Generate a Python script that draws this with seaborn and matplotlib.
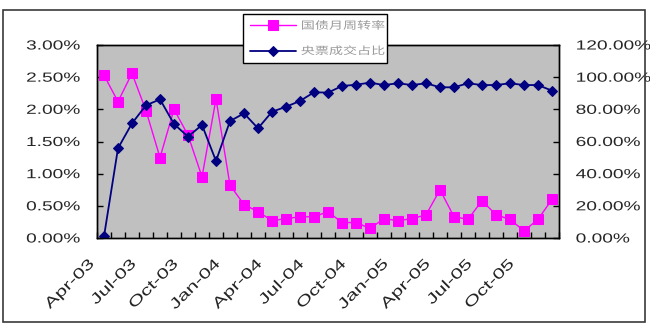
import numpy as np
import pandas as pd
import seaborn as sns
import matplotlib
matplotlib.use("Agg")
import matplotlib.pyplot as plt
from matplotlib.ticker import PercentFormatter, FixedLocator, NullFormatter
from matplotlib.patheffects import AbstractPathEffect
from matplotlib.transforms import Affine2D, ScaledTranslation
from matplotlib.patches import Rectangle

# Monthly categories, Apr-2003 .. Dec-2005
months = pd.period_range("2003-04", "2005-12", freq="M").strftime("%b-%y").tolist()

# 国债月周转率 (%), left axis
turnover = [2.53, 2.12, 2.56, 1.98, 1.25, 2.00, 1.60, 0.95, 2.16, 0.82, 0.52,
            0.41, 0.27, 0.30, 0.33, 0.33, 0.41, 0.24, 0.24, 0.15, 0.30, 0.27,
            0.30, 0.36, 0.75, 0.33, 0.29, 0.58, 0.36, 0.29, 0.11, 0.29, 0.60]

# 央票成交占比 (%), right axis
share = [1.0, 55.8, 71.3, 82.5, 86.2, 70.9, 63.0, 70.3, 47.9, 72.7, 77.5,
         68.2, 78.5, 81.6, 85.2, 90.6, 90.4, 94.5, 95.3, 96.6, 95.1, 96.2,
         95.1, 96.2, 93.7, 93.7, 96.2, 95.1, 95.1, 96.2, 95.1, 95.1, 91.6]

tick_labels = ["Apr-03", "Jul-03", "Oct-03", "Jan-04", "Apr-04", "Jul-04",
               "Oct-04", "Jan-05", "Apr-05", "Jul-05", "Oct-05"]
label_names = ["国债月周转率", "央票成交占比"]

left_ticks = [0.0, 0.5, 1.0, 1.5, 2.0, 2.5, 3.0]
right_ticks = [0, 20, 40, 60, 80, 100, 120]

df = pd.DataFrame({"idx": np.arange(len(months)), "month": months,
                   "turnover": turnover, "share": share})


class Widen(AbstractPathEffect):
    """Stretch text glyphs horizontally around a chosen anchor."""

    def __init__(self, sx=1.35, anchor="left"):
        super().__init__()
        self.sx = sx
        self.anchor = anchor

    def draw_path(self, renderer, gc, tpath, affine, rgbFace=None):
        xs = tpath.vertices[:, 0] if len(tpath.vertices) else np.array([0.0])
        if self.anchor == "right":
            x0 = xs.max()
        elif self.anchor == "center":
            x0 = 0.5 * (xs.min() + xs.max())
        else:
            x0 = 0.0
        stretch = Affine2D().translate(-x0, 0).scale(self.sx, 1).translate(x0, 0)
        renderer.draw_path(gc, tpath, stretch + affine, rgbFace)


sns.set_style("ticks")
plt.rcParams["font.family"] = ["Liberation Sans", "DejaVu Sans"]

fig = plt.figure(figsize=(6.5, 3.25), dpi=100)
ax = fig.add_axes([97 / 650, 87 / 325, 462 / 650, 193 / 325])
ax2 = ax.twinx()

PINK = "#FF00FF"
NAVY = "#000080"

sns.lineplot(data=df, x="idx", y="turnover", ax=ax, color=PINK, linewidth=1.0,
             marker="s", markersize=6.5, markeredgecolor=PINK, markerfacecolor=PINK,
             label=label_names[0], legend=False)
sns.lineplot(data=df, x="idx", y="share", ax=ax2, color=NAVY, linewidth=1.3,
             marker="D", markersize=5.2, markeredgecolor=NAVY, markerfacecolor=NAVY,
             label=label_names[1], legend=False)

ax.set_facecolor("#C0C0C0")
ax.set_xlim(-0.5, len(months) - 0.5)
ax.set_ylim(0, 3.0)
ax2.set_ylim(0, 120)
ax.set_xlabel("")
ax.set_ylabel("")
ax2.set_ylabel("")

for a in (ax, ax2):
    for s in a.spines.values():
        s.set_color("black")
        s.set_linewidth(1.0)

# category boundaries carry the tick marks, labels sit under every third month
ax.xaxis.set_major_locator(FixedLocator(np.arange(-0.5, len(months), 1.0)))
ax.xaxis.set_major_formatter(NullFormatter())
ax.xaxis.set_minor_locator(FixedLocator(np.arange(0, len(months), 3)))
ax.set_xticklabels(tick_labels, minor=True)
ax.tick_params(axis="x", which="major", direction="in", length=4, width=1, color="black")
ax.tick_params(axis="x", which="minor", length=0, pad=17, labelsize=10.5)

ax.set_yticks(left_ticks)
ax.yaxis.set_major_formatter(PercentFormatter(xmax=100, decimals=2))
ax.tick_params(axis="y", direction="in", length=4, width=1, pad=12, labelsize=9.5,
               color="black")
ax2.set_yticks(right_ticks)
ax2.yaxis.set_major_formatter(PercentFormatter(xmax=100, decimals=2))
ax2.tick_params(axis="y", direction="in", length=4, width=1, pad=12, labelsize=9.5,
                color="black")

shift = ScaledTranslation(-12 / 100, 0, fig.dpi_scale_trans)
for lab in ax.get_xticklabels(minor=True):
    lab.set_rotation(45)
    lab.set_rotation_mode("anchor")
    lab.set_ha("right")
    lab.set_va("center")
    lab.set_transform(lab.get_transform() + shift)
    lab.set_path_effects([Widen(1.45, "right")])
for lab in ax.get_yticklabels():
    lab.set_path_effects([Widen(1.45, "right")])
for lab in ax2.get_yticklabels():
    lab.set_path_effects([Widen(1.45, "left")])

h1, l1 = ax.get_legend_handles_labels()
h2, l2 = ax2.get_legend_handles_labels()
leg = ax2.legend(h1 + h2, l1 + l2, loc="upper left",
                 bbox_to_anchor=(0.316, 0.876, 0.312, 0.2846), mode="expand",
                 frameon=True, fancybox=False, framealpha=1, edgecolor="black",
                 prop={"family": ["Noto Sans CJK SC", "DejaVu Sans"], "size": 7.5},
                 handlelength=4.4, handletextpad=0.5, labelspacing=1.45,
                 borderpad=0.65, borderaxespad=0, numpoints=1)
leg.get_frame().set_linewidth(1.0)
for t in leg.get_texts():
    t.set_color("#9A9A9A")
    t.set_path_effects([Widen(1.35, "left")])

# chart-area border
fig.patches.append(Rectangle((3 / 650, 3 / 325), 642 / 650, 312 / 325,
                             transform=fig.transFigure, fill=False,
                             edgecolor="#3A3A3A", linewidth=1.2))

fig.savefig("out.png", dpi=100)
